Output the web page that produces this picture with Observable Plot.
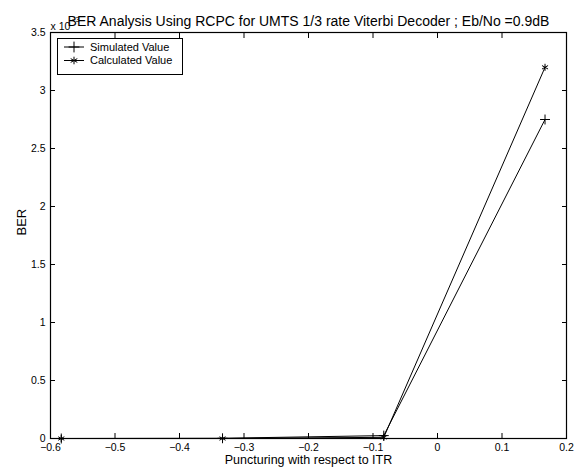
<!DOCTYPE html>
<html><head><meta charset="utf-8">
<script src="https://cdn.jsdelivr.net/npm/d3@7"></script>
<script src="https://cdn.jsdelivr.net/npm/@observablehq/plot@0.6"></script>
<style>
body{margin:0;background:#fff;font-family:"Liberation Sans",Arial,sans-serif}
#c{position:relative;width:578px;height:470px}
#legend{position:absolute;left:57px;top:38px;width:126px;height:37px;border:1px solid #000;background:#fff;box-sizing:border-box}
</style>
</head><body><div id="c"></div>
<script>
// Data
const puncturing = [-0.5833, -0.3333, -0.0833, 0.1667];
const simulated = [0, 0.002, 0.025, 2.75];
const calculated = [0, 0, 0.01, 3.2];
const seriesNames = ["Simulated Value", "Calculated Value"];
const seriesSymbols = ["plus", "asterisk"];
const xTicks = [-0.6, -0.5, -0.4, -0.3, -0.2, -0.1, 0, 0.1, 0.2];
const yTicks = [0, 0.5, 1, 1.5, 2, 2.5, 3, 3.5];
const titleText = "BER Analysis Using RCPC for UMTS 1/3 rate Viterbi Decoder ; Eb/No =0.9dB";
const xLabel = "Puncturing with respect to ITR";
const yLabel = "BER";

const rows = [];
[simulated, calculated].forEach((vals, s) => {
  puncturing.forEach((x, i) => rows.push({series: seriesNames[s], x, y: vals[i]}));
});

const font = "Liberation Sans, Arial, sans-serif";
const chart = Plot.plot({
  width: 578,
  height: 470,
  marginLeft: 50,
  marginRight: 12,
  marginTop: 32,
  marginBottom: 32,
  style: {fontFamily: font, fontSize: "10px", background: "#fff", color: "#000"},
  x: {domain: [-0.6, 0.2], ticks: xTicks, label: null},
  y: {domain: [0, 3.5], ticks: yTicks, label: null},
  marks: [
    Plot.line(rows, {x: "x", y: "y", z: "series", stroke: "#000", strokeWidth: 1}),
    Plot.dot(rows, {x: "x", y: "y", symbol: d => seriesSymbols[seriesNames.indexOf(d.series)], stroke: "#000", fill: "none", r: 3.3, strokeWidth: 1}),
    Plot.axisX(xTicks, {anchor: "bottom", tickSize: 0, tickPadding: 5, tickFormat: d => d3.format("")(d).replace("-", "\u2212"), fontSize: 10.5}),
    Plot.axisX(xTicks, {anchor: "bottom", tickSize: -5, tickFormat: () => ""}),
    Plot.axisX(xTicks, {anchor: "top", tickSize: -5, tickFormat: () => ""}),
    Plot.axisY(yTicks, {anchor: "left", tickSize: 0, tickPadding: 5, tickFormat: d => String(d), fontSize: 10.5}),
    Plot.axisY(yTicks, {anchor: "left", tickSize: -5, tickFormat: () => ""}),
    Plot.axisY(yTicks, {anchor: "right", tickSize: -5, tickFormat: () => ""}),
    Plot.frame({stroke: "#000", strokeWidth: 1.2}),
    Plot.text([xLabel], {frameAnchor: "bottom", dy: 25.5, text: d => d, fontSize: 12.5, fill: "#000"}),
    Plot.text([yLabel], {frameAnchor: "left", dx: -29, rotate: -90, text: d => d, fontSize: 13, fill: "#000"}),
    Plot.text(["x 10"], {frameAnchor: "top-left", dx: 0, dy: -10, textAnchor: "start", text: d => d, fontSize: 10.5, fill: "#000"}),
    Plot.text(["\u22123"], {frameAnchor: "top-left", dx: 21, dy: -15, textAnchor: "start", text: d => d, fontSize: 7, fill: "#000"}),
    Plot.text([titleText], {frameAnchor: "top", dy: -16, text: d => d, fontSize: 14, fill: "#000"})
  ]
});
const c = document.getElementById("c");
c.appendChild(chart);

// Legend
const lg = d3.select(c).append("div").attr("id", "legend");
const ls = lg.append("svg").attr("width", 124).attr("height", 35);
seriesNames.forEach((name, i) => {
  const y = 8 + i * 13.5;
  ls.append("line").attr("x1", 6).attr("x2", 26).attr("y1", y).attr("y2", y).attr("stroke", "#000");
  ls.append("path").attr("d", d3.symbol(seriesSymbols[i] === "plus" ? d3.symbolPlus : d3.symbolAsterisk, 40)())
    .attr("transform", `translate(16,${y})`).attr("stroke", "#000").attr("fill", "none");
  ls.append("text").attr("x", 32).attr("y", y).attr("dy", "0.35em").attr("font-size", 11)
    .attr("font-family", font).text(name);
});
</script>
</body></html>
